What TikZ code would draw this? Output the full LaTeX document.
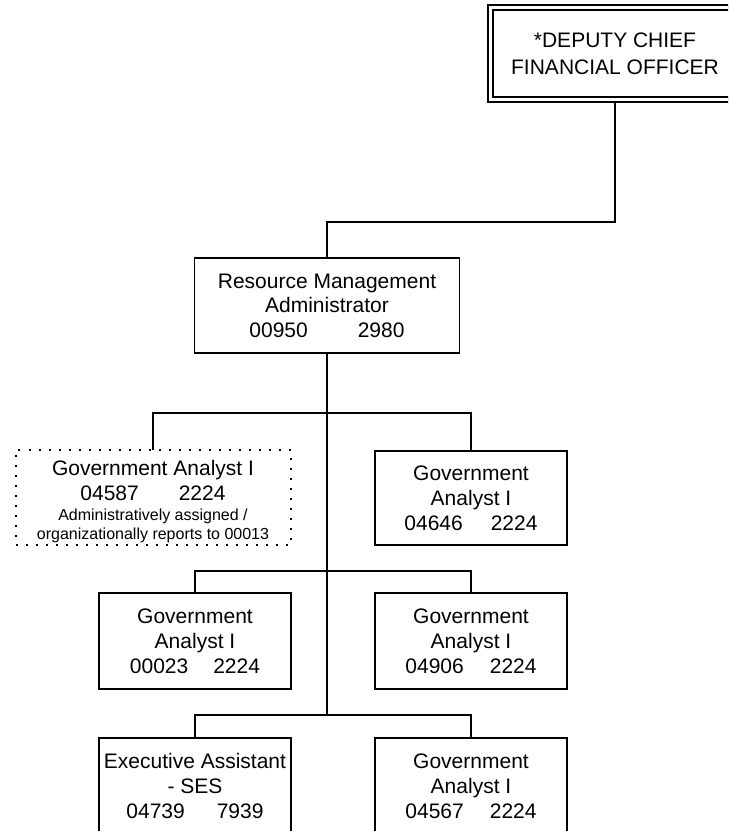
\documentclass[tikz,border=0pt]{standalone}
\usepackage{fontspec}
\setmainfont{Liberation Sans}
\begin{document}
\begin{tikzpicture}[x=0.75pt,y=-0.75pt,
  box/.style={draw,line width=1.45pt,inner sep=0pt,outer sep=0pt,align=center,
    font=\fontsize{15.75pt}{18.75pt}\selectfont,
    minimum width=144pt,minimum height=71pt},
  topbox/.style={box,double,double distance=2.4pt,line width=1.3pt,outer sep=2.5pt,
    minimum width=186.75pt,minimum height=69pt,
    font=\fontsize{15.75pt}{20.25pt}\selectfont},
  dotbox/.style={box,line width=1.5pt,dash pattern=on 1.5pt off 6pt,
    minimum width=206.25pt,minimum height=71.25pt},
  link/.style={line width=1.45pt}]

\useasboundingbox (0,0) rectangle (728,831);
\clip (0,0) rectangle (728,831);

% boxes
\node[topbox] (dcfo) at (615,53.5) {*DEPUTY CHIEF\\FINANCIAL OFFICER};
\node[box,minimum width=198.75pt,minimum height=71.25pt,
  font=\fontsize{15.75pt}{18.4pt}\selectfont] (rma) at (327,305.5)
  {Resource Management\\Administrator\\00950\hspace{37.5pt}2980};

\node[dotbox] (ga4587) at (153,497.5)
  {\rule{0pt}{17.5pt}Government Analyst I\\04587\hspace{30pt}2224\\[-3.75pt]
   {\fontsize{12pt}{14pt}\selectfont Administratively assigned /}\\[-4.5pt]
   {\fontsize{12pt}{14pt}\selectfont organizationally reports to 00013}};
\node[box,minimum height=70.5pt] (ga4646) at (471,498)
  {Government\\Analyst I\\04646\hspace{21pt}2224};

\node[box,minimum height=72pt] (ga0023) at (195,641)
  {Government\\Analyst I\\00023\hspace{18.75pt}2224};
\node[box,minimum height=72pt] (ga4906) at (471,641)
  {Government\\Analyst I\\04906\hspace{19.5pt}2224};

\node[box,minimum height=72pt] (ea) at (195,786)
  {Executive Assistant\\- SES\\04739\hspace{24pt}7939};
\node[box,minimum height=72pt] (ga4567) at (471,786)
  {Government\\Analyst I\\04567\hspace{19.5pt}2224};

% bus lines
\coordinate (bar0) at (470,222);
\coordinate (bar1) at (327,413);
\coordinate (bar2) at (327,571);
\coordinate (bar3) at (327,715);

\draw[link] (dcfo.south) |- (bar0) -| (rma.north);
\draw[link] (rma.south) -- (bar3);
\draw[link] (ga4587.north) |- (bar1) -| (ga4646.north);
\draw[link] (ga0023.north) |- (bar2) -| (ga4906.north);
\draw[link] (ea.north) |- (bar3) -| (ga4567.north);
\end{tikzpicture}
\end{document}
